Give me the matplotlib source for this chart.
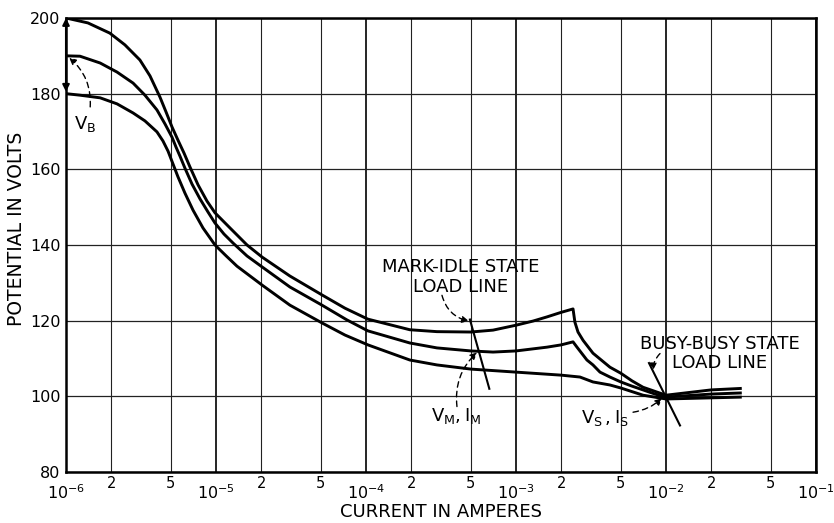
import matplotlib
matplotlib.use("Agg")
import matplotlib.pyplot as plt

# ---------------- data ----------------
top_current = [1.0e-6, 1.40e-6, 1.96e-6, 2.47e-6, 3.11e-6, 3.63e-6, 4.23e-6, 4.64e-6, 5.09e-6,
               5.58e-6, 6.12e-6, 6.71e-6, 7.59e-6, 8.71e-6, 9.85e-6, 1.24e-5, 1.61e-5, 2.03e-5,
               3.11e-5, 5.09e-5, 7.24e-5, 1.03e-4, 1.96e-4, 2.97e-4, 5.0e-4, 7.03e-4, 1.0e-3,
               1.30e-3, 1.61e-3, 2.0e-3, 2.40e-3, 2.47e-3, 2.59e-3, 2.80e-3, 3.26e-3, 4.23e-3,
               5.0e-3, 5.93e-3, 7.03e-3, 1.0e-2, 2.0e-2, 3.2e-2]
top_volts = [200.0, 198.7, 196.0, 192.9, 188.9, 184.7, 179.1, 175.2, 171.2,
             167.7, 164.3, 160.6, 155.9, 151.6, 148.5, 144.5, 140.0, 136.8,
             131.8, 126.8, 123.3, 120.4, 117.6, 117.1, 117.0, 117.5, 118.8,
             119.9, 121.0, 122.2, 123.1, 119.6, 117.0, 114.8, 111.4, 107.7,
             106.1, 104.1, 102.4, 100.3, 101.7, 102.1]

mid_current = [1.0e-6, 1.24e-6, 1.69e-6, 2.19e-6, 2.80e-6, 3.36e-6, 4.04e-6, 4.57e-6, 5.09e-6,
               5.41e-6, 5.75e-6, 6.21e-6, 6.92e-6, 7.82e-6, 8.85e-6, 9.85e-6, 1.13e-5, 1.30e-5,
               1.61e-5, 2.03e-5, 3.11e-5, 5.09e-5, 7.46e-5, 1.03e-4, 1.96e-4, 2.97e-4, 5.0e-4,
               7.03e-4, 1.0e-3, 1.61e-3, 2.0e-3, 2.40e-3, 2.55e-3, 2.97e-3, 3.26e-3, 3.63e-3,
               4.23e-3, 5.0e-3, 5.93e-3, 7.03e-3, 8.45e-3, 1.0e-2, 2.0e-2, 3.2e-2]
mid_volts = [190.0, 189.9, 188.1, 185.7, 182.8, 179.6, 175.7, 172.0, 168.5,
             165.9, 163.5, 160.3, 156.1, 152.2, 148.7, 145.8, 142.9, 140.5,
             137.1, 134.2, 128.9, 124.1, 120.2, 117.3, 114.1, 112.8, 112.0,
             111.7, 112.0, 113.0, 113.6, 114.4, 113.0, 109.6, 108.3, 106.4,
             105.1, 103.8, 102.7, 101.7, 100.6, 99.8, 100.6, 100.9]

bot_current = [1.0e-6, 1.24e-6, 1.69e-6, 2.19e-6, 2.80e-6, 3.36e-6, 4.04e-6, 4.43e-6, 4.79e-6,
               5.17e-6, 5.58e-6, 6.21e-6, 7.03e-6, 8.19e-6, 9.85e-6, 1.17e-5, 1.38e-5, 2.03e-5,
               3.11e-5, 5.09e-5, 7.24e-5, 1.03e-4, 1.96e-4, 2.97e-4, 5.0e-4, 1.0e-3, 2.0e-3,
               2.67e-3, 3.26e-3, 4.23e-3, 5.0e-3, 7.03e-3, 1.0e-2, 2.0e-2, 3.2e-2]
bot_volts = [180.0, 179.6, 178.9, 177.3, 174.9, 172.8, 169.9, 167.5, 164.8,
             161.4, 158.0, 153.7, 149.2, 144.5, 140.0, 137.1, 134.4, 129.4,
             124.1, 119.4, 116.2, 113.6, 109.6, 108.3, 107.2, 106.4, 105.6,
             105.1, 103.8, 103.0, 102.2, 100.3, 99.3, 99.6, 99.8]

mark_load_current = [4.93e-4, 6.64e-4]
mark_load_volts = [120.3, 102.0]
busy_load_current = [7.7e-3, 1.24e-2]
busy_load_volts = [108.8, 92.3]

y_ticks = [80, 100, 120, 140, 160, 180, 200]
major_x = [1e-6, 1e-5, 1e-4, 1e-3, 1e-2, 1e-1]
major_labels = [r"$\mathregular{10^{-6}}$", r"$\mathregular{10^{-5}}$", r"$\mathregular{10^{-4}}$",
                r"$\mathregular{10^{-3}}$", r"$\mathregular{10^{-2}}$", r"$\mathregular{10^{-1}}$"]
minor_x = [2e-6, 5e-6, 2e-5, 5e-5, 2e-4, 5e-4, 2e-3, 5e-3, 2e-2, 5e-2]
minor_labels = ["2", "5", "2", "5", "2", "5", "2", "5", "2", "5"]

# ---------------- figure ----------------
plt.rcParams['font.family'] = ['DejaVu Sans']
fig = plt.figure(figsize=(8.34, 5.23), dpi=100)
ax = fig.add_axes([66/834, 51/523, 750/834, 454/523])
ax.set_xscale('log')
ax.set_xlim(1e-6, 1e-1)
ax.set_ylim(80, 200)

# grid
for xv in major_x:
    ax.axvline(xv, color='black', lw=1.2, zorder=1)
for xv in minor_x:
    ax.axvline(xv, color='#222222', lw=0.8, zorder=1)
for yv in y_ticks:
    ax.axhline(yv, color='#222222', lw=0.9, zorder=1)

for s in ax.spines.values():
    s.set_linewidth(1.8)
    s.set_color('black')

ax.set_yticks(y_ticks)
ax.set_yticklabels([str(v) for v in y_ticks], fontsize=11.5)
ax.tick_params(axis='y', length=0, pad=4)

ax.set_xticks(major_x)
ax.set_xticklabels(major_labels, fontsize=11.5)
ax.set_xticks(minor_x, minor=True)
ax.set_xticklabels(minor_labels, minor=True, fontsize=10.5)
ax.tick_params(axis='x', which='major', length=0, pad=8)
ax.tick_params(axis='x', which='minor', length=0, pad=3)

ax.set_xlabel("CURRENT IN AMPERES", fontsize=13, labelpad=1)
ax.set_ylabel("POTENTIAL IN VOLTS", fontsize=13.5)
ax.yaxis.set_label_coords(-0.053, 0.535)

# curves
for xs, ys in [(top_current, top_volts), (mid_current, mid_volts), (bot_current, bot_volts)]:
    ax.plot(xs, ys, color='black', lw=2.1, solid_joinstyle='round', solid_capstyle='butt', zorder=4)

ax.plot(mark_load_current, mark_load_volts, color='black', lw=1.5, zorder=5)
ax.plot(busy_load_current, busy_load_volts, color='black', lw=1.5, zorder=5)

# V_B range arrow along left axis
ax.annotate("", xy=(1e-6, 200), xytext=(1e-6, 180.5),
            arrowprops=dict(arrowstyle='<|-|>', color='black', lw=1.5,
                            mutation_scale=10, shrinkA=0, shrinkB=0),
            annotation_clip=False, zorder=6)

dash = dict(arrowstyle='-|>', color='black', lw=1.0, linestyle=(0, (4, 3)),
            mutation_scale=10, shrinkA=0, shrinkB=0)

# V_B
ax.text(1.34e-6, 172.0, r"$\mathregular{V_B}$", fontsize=13, ha='center', va='center')
ax.annotate("", xy=(1.05e-6, 189.5), xytext=(1.45e-6, 176.5),
            arrowprops=dict(dash, connectionstyle='arc3,rad=0.25'))

# mark-idle
ax.text(4.3e-4, 131.5, "MARK-IDLE STATE\nLOAD LINE", fontsize=13, ha='center', va='center',
        linespacing=1.1)
ax.annotate("", xy=(4.85e-4, 119.9), xytext=(3.21e-4, 126.7),
            arrowprops=dict(dash, connectionstyle='arc3,rad=0.3'))
ax.text(3.98e-4, 94.7, r"$\mathregular{V_M, I_M}$", fontsize=13, ha='center', va='center')
ax.annotate("", xy=(5.5e-4, 111.6), xytext=(4.04e-4, 97.3),
            arrowprops=dict(dash, connectionstyle='arc3,rad=-0.25'))

# busy-busy
ax.text(2.29e-2, 111.4, "BUSY-BUSY STATE\nLOAD LINE", fontsize=13, ha='center', va='center',
        linespacing=1.1)
ax.annotate("", xy=(8.2e-3, 106.9), xytext=(9.12e-3, 111.3),
            arrowprops=dict(dash, connectionstyle='arc3,rad=0.2'))
ax.text(3.92e-3, 94.2, r"$\mathregular{V_S\,, I_S}$", fontsize=13, ha='center', va='center')
ax.annotate("", xy=(9.4e-3, 99.5), xytext=(6.03e-3, 95.8),
            arrowprops=dict(dash, connectionstyle='arc3,rad=0.15'))

fig.savefig("out.png", dpi=100, facecolor='white')
